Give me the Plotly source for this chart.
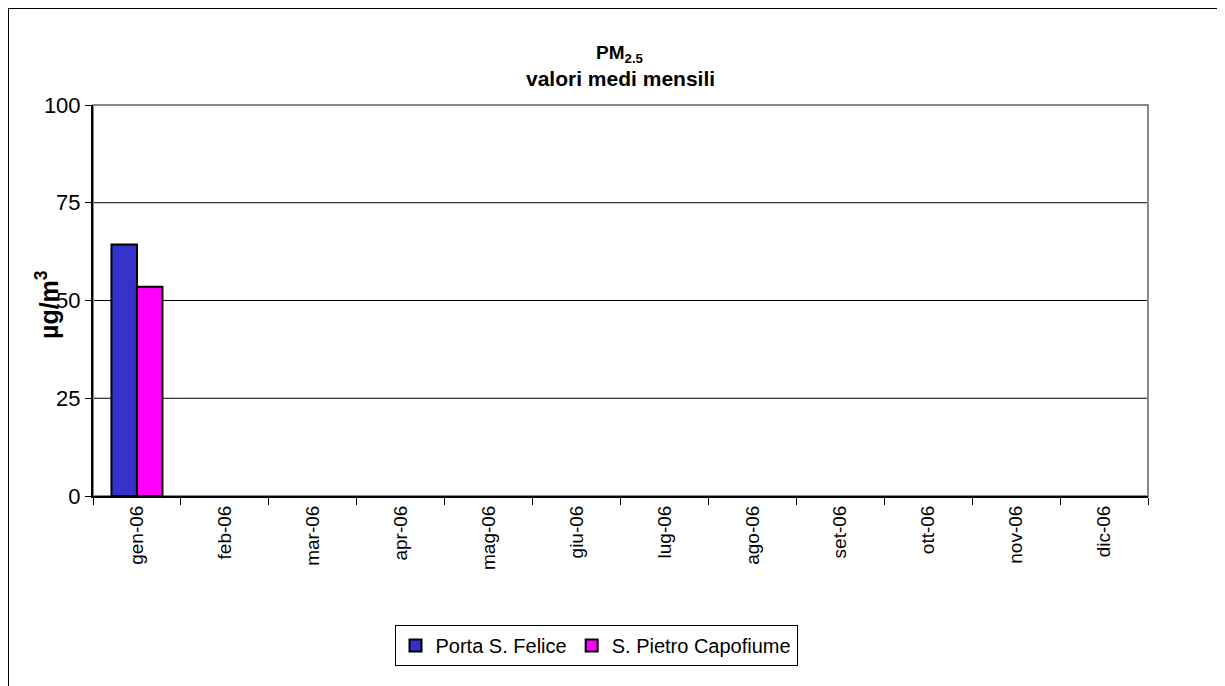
import plotly.graph_objects as go

months = ["gen-06", "feb-06", "mar-06", "apr-06", "mag-06", "giu-06",
          "lug-06", "ago-06", "set-06", "ott-06", "nov-06", "dic-06"]
porta_s_felice = [64.3, None, None, None, None, None, None, None, None, None, None, None]
s_pietro_capofiume = [53.5, None, None, None, None, None, None, None, None, None, None, None]
y_ticks = [0, 25, 50, 75, 100]
grid_vals = [25, 50, 75]

fig = go.Figure()
fig.add_trace(go.Bar(x=months, y=porta_s_felice, name="Porta S. Felice",
                     marker=dict(color="#3333CC", line=dict(color="black", width=2))))
fig.add_trace(go.Bar(x=months, y=s_pietro_capofiume, name="S. Pietro Capofiume",
                     marker=dict(color="#FF00FF", line=dict(color="black", width=2))))

OFF = 8  # page body margin
W, H = 1225 - OFF, 686 - OFF
L, T = 93 - OFF, 105 - OFF
R = W - (1148 - OFF)
B = H - (496 - OFF)
pw, ph = W - L - R, H - T - B

def px_x(x):
    return (x - OFF - L) / pw

def px_y(y):
    return (H - B - (y - OFF)) / ph

shapes = []
for g in grid_vals:
    shapes.append(dict(type="line", xref="paper", yref="y", x0=0, x1=1, y0=g, y1=g,
                       line=dict(color="black", width=1), layer="below"))
shapes.append(dict(type="rect", xref="paper", yref="paper", x0=0, x1=1, y0=0, y1=1,
                   line=dict(color="#888888", width=2), layer="below"))
shapes.append(dict(type="rect", xref="paper", yref="paper",
                   x0=px_x(OFF), x1=px_x(1260), y0=px_y(720), y1=px_y(OFF),
                   line=dict(color="black", width=2), layer="below"))

title_font = dict(size=21, family="Arial, Liberation Sans, sans-serif", color="black")

fig.update_layout(
    width=W, height=H,
    margin=dict(l=L, r=R, t=T, b=B),
    paper_bgcolor="white", plot_bgcolor="white",
    font=dict(family="Arial, Liberation Sans, sans-serif", color="black"),
    barmode="group", bargap=0.42, bargroupgap=0,
    showlegend=True,
    legend=dict(orientation="h", x=px_x(596), xanchor="center",
                y=px_y(625), yanchor="top",
                bordercolor="black", borderwidth=1, font=dict(size=20),
                traceorder="normal", itemwidth=30, tracegroupgap=0),
    shapes=shapes,
    annotations=[
        dict(text="<b>PM<sub>2.5</sub></b>", xref="paper", yref="paper",
             x=px_x(620), y=px_y(54), showarrow=False, xanchor="center",
             yanchor="middle", font=dict(size=19)),
        dict(text="<b>valori medi mensili</b>", xref="paper", yref="paper",
             x=px_x(620), y=px_y(78), showarrow=False, xanchor="center",
             yanchor="middle", font=title_font),
        dict(text="<b>µg/m<sup>3</sup></b>", xref="paper", yref="paper",
             x=px_x(47), y=px_y(305), textangle=-90, showarrow=False,
             xanchor="center", yanchor="middle", font=dict(size=25)),
    ],
    xaxis=dict(tickangle=-90, tickfont=dict(size=19), showline=True, linecolor="black",
               linewidth=2, ticks="outside", tickson="boundaries", ticklen=7,
               tickcolor="black", showgrid=False),
    yaxis=dict(range=[0, 100], tickvals=y_ticks, tickfont=dict(size=22),
               showline=True, linecolor="black", linewidth=2, ticks="outside",
               ticklen=6, tickcolor="black", showgrid=False, zeroline=False),
)

fig.write_html("out.html")
